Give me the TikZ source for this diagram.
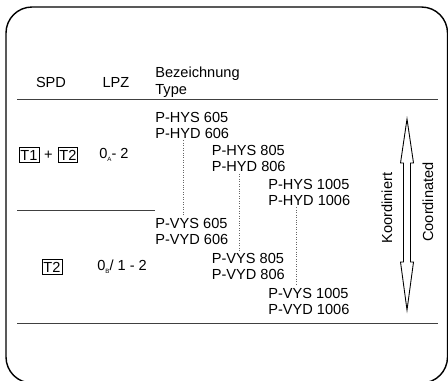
\documentclass[tikz,border=0pt]{standalone}
\usepackage{fontspec}
\setmainfont{Liberation Sans}
\usetikzlibrary{calc,positioning}
\tikzset{
  typ/.style={align=left,anchor=west,inner xsep=0pt,inner ysep=1pt},
  kasten/.style={draw,line width=0.4pt,inner xsep=0.8pt,inner ysep=1.2pt,text height=6pt,text depth=0pt},
  trenn/.style={draw=black!75,line width=0.5pt},
}
\newcommand{\zonesub}[1]{0\raisebox{-0.4ex}{\fontsize{3.5}{4}\selectfont #1}}

\begin{document}
\begin{tikzpicture}[x=0.02cm,y=-0.02cm,font=\fontsize{8.3}{9.1}\selectfont]
\useasboundingbox (0,0) rectangle (448,380);
\draw [line width=0.8pt,rounded corners=0.52cm] (6,7) rectangle (447.5,383);
\draw [trenn] (17,99) -- (438,99);
\draw [trenn] (17,210) -- (155,210);
\draw [trenn] (17,323) -- (438,323);
\node (spd) at (51,82) {SPD};
\node (lpz) at (116,82) {LPZ};
\node (bez) at (155,82) [typ] {Bezeichnung\\[0.8pt]Type};
\node (t1) at (29,155) [kasten] {T1};
\node (plus) [right=0pt of t1,inner xsep=2.6pt,inner ysep=1pt] {+};
\node (t2) [right=0pt of plus,kasten] {T2};
\node (lpza) at (99,155) [anchor=west,inner sep=0pt] {\zonesub{A}- 2};
\node (t2b) at (52,267) [kasten] {T2};
\node (lpzb) at (97,267) [anchor=west,inner sep=0pt] {\zonesub{B}/ 1 - 2};
\foreach \s/\d/\i in {605/606/0,805/806/1,1005/1006/2} {
	\node (h\s) at (155+56.5*\i,125+33.5*\i) [typ] {P-HYS \s\\P-HYD \d};
	\node (v\s) at (155+56.5*\i,231+35*\i) [typ] {P-VYS \s\\P-VYD \d};
	\draw [densely dotted,black!60] ([xshift=0.56cm]h\s.south west) -- ([xshift=0.56cm]v\s.north west);
}
\draw [line width=0.5pt] (407,119) -- (413.5,163) -- (410.5,163) -- (410.5,262) -- (413.5,262) -- (407,310)
	-- (400.5,262) -- (403.5,262) -- (403.5,163) -- (400.5,163) -- cycle;
\draw [line width=1pt] (410.5,163) -- (410.5,262);
\node (ko) at (387,208) [rotate=90] {Koordiniert};
\node (co) at (428,202) [rotate=90] {Coordinated};
\end{tikzpicture}
\end{document}
